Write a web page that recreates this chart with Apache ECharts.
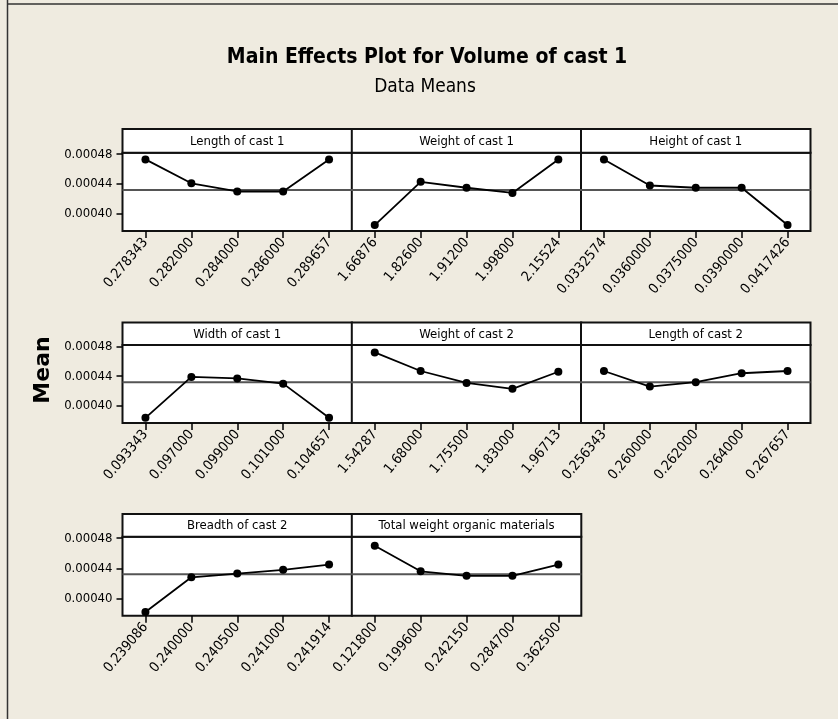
<!DOCTYPE html>
<html>
<head>
<meta charset="utf-8">
<script src="https://cdn.jsdelivr.net/npm/echarts@6/dist/echarts.min.js"></script>
<style>html,body{margin:0;padding:0;background:#EFEBE0;}#c{width:838px;height:719px;}</style>
</head>
<body>
<div id="c"></div>
<script>
// ---- data ----
var panelTitles = ['Length of cast 1','Weight of cast 1','Height of cast 1','Width of cast 1','Weight of cast 2','Length of cast 2','Breadth of cast 2','Total weight organic materials'];
var lengthCast1X = ['0.278343','0.282000','0.284000','0.286000','0.289657'];
var lengthCast1Y = [0.000473, 0.000441, 0.000430, 0.000430, 0.000473];
var weightCast1X = ['1.66876','1.82600','1.91200','1.99800','2.15524'];
var weightCast1Y = [0.000385, 0.000443, 0.000435, 0.000428, 0.000473];
var heightCast1X = ['0.0332574','0.0360000','0.0375000','0.0390000','0.0417426'];
var heightCast1Y = [0.000473, 0.000438, 0.000435, 0.000435, 0.000385];
var widthCast1X = ['0.093343','0.097000','0.099000','0.101000','0.104657'];
var widthCast1Y = [0.000384, 0.000439, 0.000437, 0.000430, 0.000384];
var weightCast2X = ['1.54287','1.68000','1.75500','1.83000','1.96713'];
var weightCast2Y = [0.000472, 0.000447, 0.000431, 0.000423, 0.000446];
var lengthCast2X = ['0.256343','0.260000','0.262000','0.264000','0.267657'];
var lengthCast2Y = [0.000447, 0.000426, 0.000432, 0.000444, 0.000447];
var breadthCast2X = ['0.239086','0.240000','0.240500','0.241000','0.241914'];
var breadthCast2Y = [0.000382, 0.000428, 0.000433, 0.000438, 0.000445];
var totalWeightX = ['0.121800','0.199600','0.242150','0.284700','0.362500'];
var totalWeightY = [0.000470, 0.000436, 0.000430, 0.000430, 0.000445];
var yTickValues = [0.00040, 0.00044, 0.00048];
var overallMean = 0.000432;
// ---- layout ----
var xs = [lengthCast1X, weightCast1X, heightCast1X, widthCast1X, weightCast2X, lengthCast2X, breadthCast2X, totalWeightX];
var ys = [lengthCast1Y, weightCast1Y, heightCast1Y, widthCast1Y, weightCast2Y, lengthCast2Y, breadthCast2Y, totalWeightY];
var colLeft = [122.5, 351.8, 581];
var colW = 229.5;
var headTop = [129, 322.5, 514];
var gridTop = [152.7, 345, 536.7];
var gridH = [78.3, 78, 79];
var NARROW = "'DejaVu Sans Condensed','Liberation Sans Narrow',sans-serif";
var grids = [], xAxes = [], yAxes = [], series = [], graphics = [];
graphics.push({type:'line', shape:{x1:7.5,y1:0,x2:7.5,y2:719}, style:{stroke:'#333', lineWidth:1.5}, z:100});
graphics.push({type:'line', shape:{x1:7.5,y1:4,x2:838,y2:4}, style:{stroke:'#333', lineWidth:1.5}, z:100});
graphics.push({type:'text', x:43, y:370, rotation:Math.PI/2,
  style:{text:'Mean', font:"bold 22px 'DejaVu Sans',sans-serif", fill:'#000', textAlign:'center', textVerticalAlign:'middle'}});
for (var i = 0; i < 8; i++) {
  var r = Math.floor(i / 3), c = i % 3;
  grids.push({left: colLeft[c], top: gridTop[r], width: colW, height: gridH[r], show: true,
    backgroundColor: '#fff', borderColor: '#111', borderWidth: 2, containLabel: false});
  graphics.push({type:'rect', shape:{x: colLeft[c], y: headTop[r], width: colW, height: gridTop[r]-headTop[r]},
    style:{fill:'#fff', stroke:'#111', lineWidth:2}});
  graphics.push({type:'text', x: colLeft[c] + colW/2, y: (headTop[r]+gridTop[r])/2 + 0.5,
    style:{text: panelTitles[i], font: "13px " + NARROW, fill:'#000', textAlign:'center', textVerticalAlign:'middle'}});
  xAxes.push({type:'category', gridIndex:i, data: xs[i], boundaryGap:true,
    axisLine:{show:false},
    axisTick:{show:true, alignWithLabel:true, length:7, lineStyle:{color:'#000', width:1.5}},
    axisLabel:{interval:0, rotate:50, fontSize:14, fontFamily:NARROW, color:'#000', margin:9},
    splitLine:{show:false}});
  yAxes.push({type:'value', gridIndex:i, min:0.000377, max:0.000482,
    axisLine:{show:false}, splitLine:{show:false},
    axisTick:{show: c===0, customValues: yTickValues, length:6, lineStyle:{color:'#000', width:1.5}},
    axisLabel:{show: c===0, customValues: yTickValues, fontSize:13, fontFamily:NARROW, color:'#000', margin:10,
      formatter:function(v){return v.toFixed(5);}}});
  series.push({type:'line', xAxisIndex:i, yAxisIndex:i, data: ys[i], symbol:'circle', symbolSize:8, z:5,
    lineStyle:{color:'#000', width:1.8}, itemStyle:{color:'#000'}});
}
// helper x axes spanning each panel, used to draw the overall-mean reference line across the full width
for (var j = 0; j < 8; j++) {
  xAxes.push({type:'value', gridIndex:j, min:0, max:1, show:false});
  series.push({type:'line', xAxisIndex:8+j, yAxisIndex:j, data:[[0, overallMean],[1, overallMean]],
    symbol:'none', z:3, lineStyle:{color:'#555', width:2}, silent:true});
}
var chart = echarts.init(document.getElementById('c'), null, {renderer:'canvas'});
chart.setOption({
  backgroundColor:'#EFEBE0',
  animation:false,
  title:[
    {text:'Main Effects Plot for Volume of cast 1', left:427, textAlign:'center', top:47, padding:0,
      textStyle:{fontSize:21, fontWeight:'bold', fontFamily:NARROW, color:'#000'}},
    {text:'Data Means', left:425, textAlign:'center', top:78, padding:0,
      textStyle:{fontSize:19, fontWeight:'normal', fontFamily:NARROW, color:'#000'}}
  ],
  grid: grids, xAxis: xAxes, yAxis: yAxes, series: series, graphic: graphics
});
</script>
</body>
</html>
